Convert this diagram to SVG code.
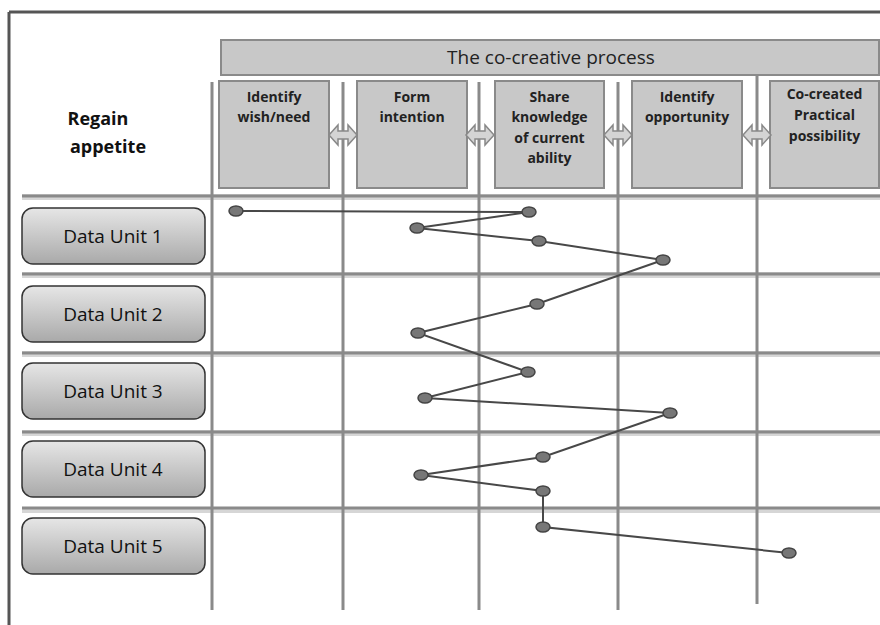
<svg xmlns="http://www.w3.org/2000/svg" width="880" height="625" viewBox="0 0 880 625">
<defs>
<linearGradient id="btn" x1="0" y1="0" x2="0" y2="1">
<stop offset="0" stop-color="#e6e6e6"/>
<stop offset="1" stop-color="#a9a9a9"/>
</linearGradient>
<path id="dbl" d="M0,0 L9,-10 L9,-4 L19,-4 L19,-10 L28,0 L19,10 L19,4 L9,4 L9,10 Z"/>
</defs>
<style>
.frame{stroke:#555;stroke-width:3;fill:none}
.gs{stroke:#d6d6d6;stroke-width:6;fill:none}
.g{stroke:#8a8a8a;stroke-width:3;fill:none}
.box{fill:#c8c8c8;stroke:#8a8a8a;stroke-width:2}
.bt{font-family:"Open Sans","Noto Sans",sans-serif;font-weight:bold;font-size:14px;fill:#222;text-anchor:middle}
.rt{font-family:"Open Sans","Noto Sans",sans-serif;font-weight:bold;font-size:18px;fill:#111;text-anchor:middle}
.ht{font-family:"Open Sans","Noto Sans",sans-serif;font-size:19px;fill:#222;text-anchor:middle}
.du{fill:url(#btn);stroke:#333;stroke-width:1.5}
.dt{font-family:"Open Sans","Noto Sans",sans-serif;font-size:19px;fill:#111;text-anchor:middle}
.arr{fill:#d4d4d4;stroke:#888;stroke-width:1.5}
.path{stroke:#484848;stroke-width:2;fill:none}
.pt{fill:#777;stroke:#444;stroke-width:1.5}
</style>
<rect width="880" height="625" fill="#fff"/>
<g id="frame">
<line class="frame" x1="9" y1="12" x2="880" y2="12"/>
<line class="frame" x1="9" y1="12" x2="9" y2="625"/>
</g>
<g id="grid">
<g class="gs">
<line x1="22" y1="197" x2="880" y2="197"/>
<line x1="22" y1="275" x2="880" y2="275"/>
<line x1="22" y1="354" x2="880" y2="354"/>
<line x1="22" y1="433" x2="880" y2="433"/>
<line x1="22" y1="510" x2="880" y2="510"/>
</g>
<g class="g">
<line x1="22" y1="196" x2="880" y2="196"/>
<line x1="22" y1="274" x2="880" y2="274"/>
<line x1="22" y1="353" x2="880" y2="353"/>
<line x1="22" y1="432" x2="880" y2="432"/>
<line x1="22" y1="508" x2="880" y2="508"/>
<line x1="212" y1="82" x2="212" y2="610"/>
<line x1="343" y1="82" x2="343" y2="610"/>
<line x1="479" y1="82" x2="479" y2="610"/>
<line x1="618" y1="82" x2="618" y2="610"/>
<line x1="757" y1="76" x2="757" y2="604"/>
</g>
</g>
<g id="header">
<rect class="box" x="221" y="40" width="658" height="35"/>
<text class="ht" x="551" y="64">The co-creative process</text>
</g>
<g id="title">
<text class="rt" x="98" y="125">Regain</text>
<text class="rt" x="108" y="153">appetite</text>
</g>
<g id="step1">
<rect class="box" x="219" y="81" width="110" height="107"/>
<text class="bt" x="274" y="102">Identify</text>
<text class="bt" x="274" y="122">wish/need</text>
</g>
<g id="step2">
<rect class="box" x="357" y="81" width="110" height="107"/>
<text class="bt" x="412" y="102">Form</text>
<text class="bt" x="412" y="122">intention</text>
</g>
<g id="step3">
<rect class="box" x="495" y="81" width="109" height="107"/>
<text class="bt" x="549.5" y="102">Share</text>
<text class="bt" x="549.5" y="122">knowledge</text>
<text class="bt" x="549.5" y="143">of current</text>
<text class="bt" x="549.5" y="163">ability</text>
</g>
<g id="step4">
<rect class="box" x="632" y="81" width="110" height="107"/>
<text class="bt" x="687" y="102">Identify</text>
<text class="bt" x="687" y="122">opportunity</text>
</g>
<g id="step5">
<rect class="box" x="770" y="81" width="109" height="107"/>
<text class="bt" x="824.5" y="99">Co-created</text>
<text class="bt" x="824.5" y="120">Practical</text>
<text class="bt" x="824.5" y="141">possibility</text>
</g>
<g id="arrows">
<use href="#dbl" class="arr" transform="translate(329,135)"/>
<use href="#dbl" class="arr" transform="translate(466,135)"/>
<use href="#dbl" class="arr" transform="translate(604,135)"/>
<use href="#dbl" class="arr" transform="translate(743,135)"/>
</g>
<g id="du1"><rect class="du" x="22" y="208" width="183" height="56" rx="11"/><text class="dt" x="113" y="243">Data Unit 1</text></g>
<g id="du2"><rect class="du" x="22" y="286" width="183" height="56" rx="11"/><text class="dt" x="113" y="321">Data Unit 2</text></g>
<g id="du3"><rect class="du" x="22" y="363" width="183" height="56" rx="11"/><text class="dt" x="113" y="398">Data Unit 3</text></g>
<g id="du4"><rect class="du" x="22" y="441" width="183" height="56" rx="11"/><text class="dt" x="113" y="476">Data Unit 4</text></g>
<g id="du5"><rect class="du" x="22" y="518" width="183" height="56" rx="11"/><text class="dt" x="113" y="553">Data Unit 5</text></g>
<g id="connectors">
<polyline class="path" points="236,211 529,212 417,228 539,241 663,260 537,304 418,333 528,372 425,398 670,413 543,457 421,475 543,491 543,527 789,553"/>
</g>
<g id="points">
<ellipse class="pt" cx="236" cy="211" rx="7" ry="5"/>
<ellipse class="pt" cx="529" cy="212" rx="7" ry="5"/>
<ellipse class="pt" cx="417" cy="228" rx="7" ry="5"/>
<ellipse class="pt" cx="539" cy="241" rx="7" ry="5"/>
<ellipse class="pt" cx="663" cy="260" rx="7" ry="5"/>
<ellipse class="pt" cx="537" cy="304" rx="7" ry="5"/>
<ellipse class="pt" cx="418" cy="333" rx="7" ry="5"/>
<ellipse class="pt" cx="528" cy="372" rx="7" ry="5"/>
<ellipse class="pt" cx="425" cy="398" rx="7" ry="5"/>
<ellipse class="pt" cx="670" cy="413" rx="7" ry="5"/>
<ellipse class="pt" cx="543" cy="457" rx="7" ry="5"/>
<ellipse class="pt" cx="421" cy="475" rx="7" ry="5"/>
<ellipse class="pt" cx="543" cy="491" rx="7" ry="5"/>
<ellipse class="pt" cx="543" cy="527" rx="7" ry="5"/>
<ellipse class="pt" cx="789" cy="553" rx="7" ry="5"/>
</g>
</svg>
